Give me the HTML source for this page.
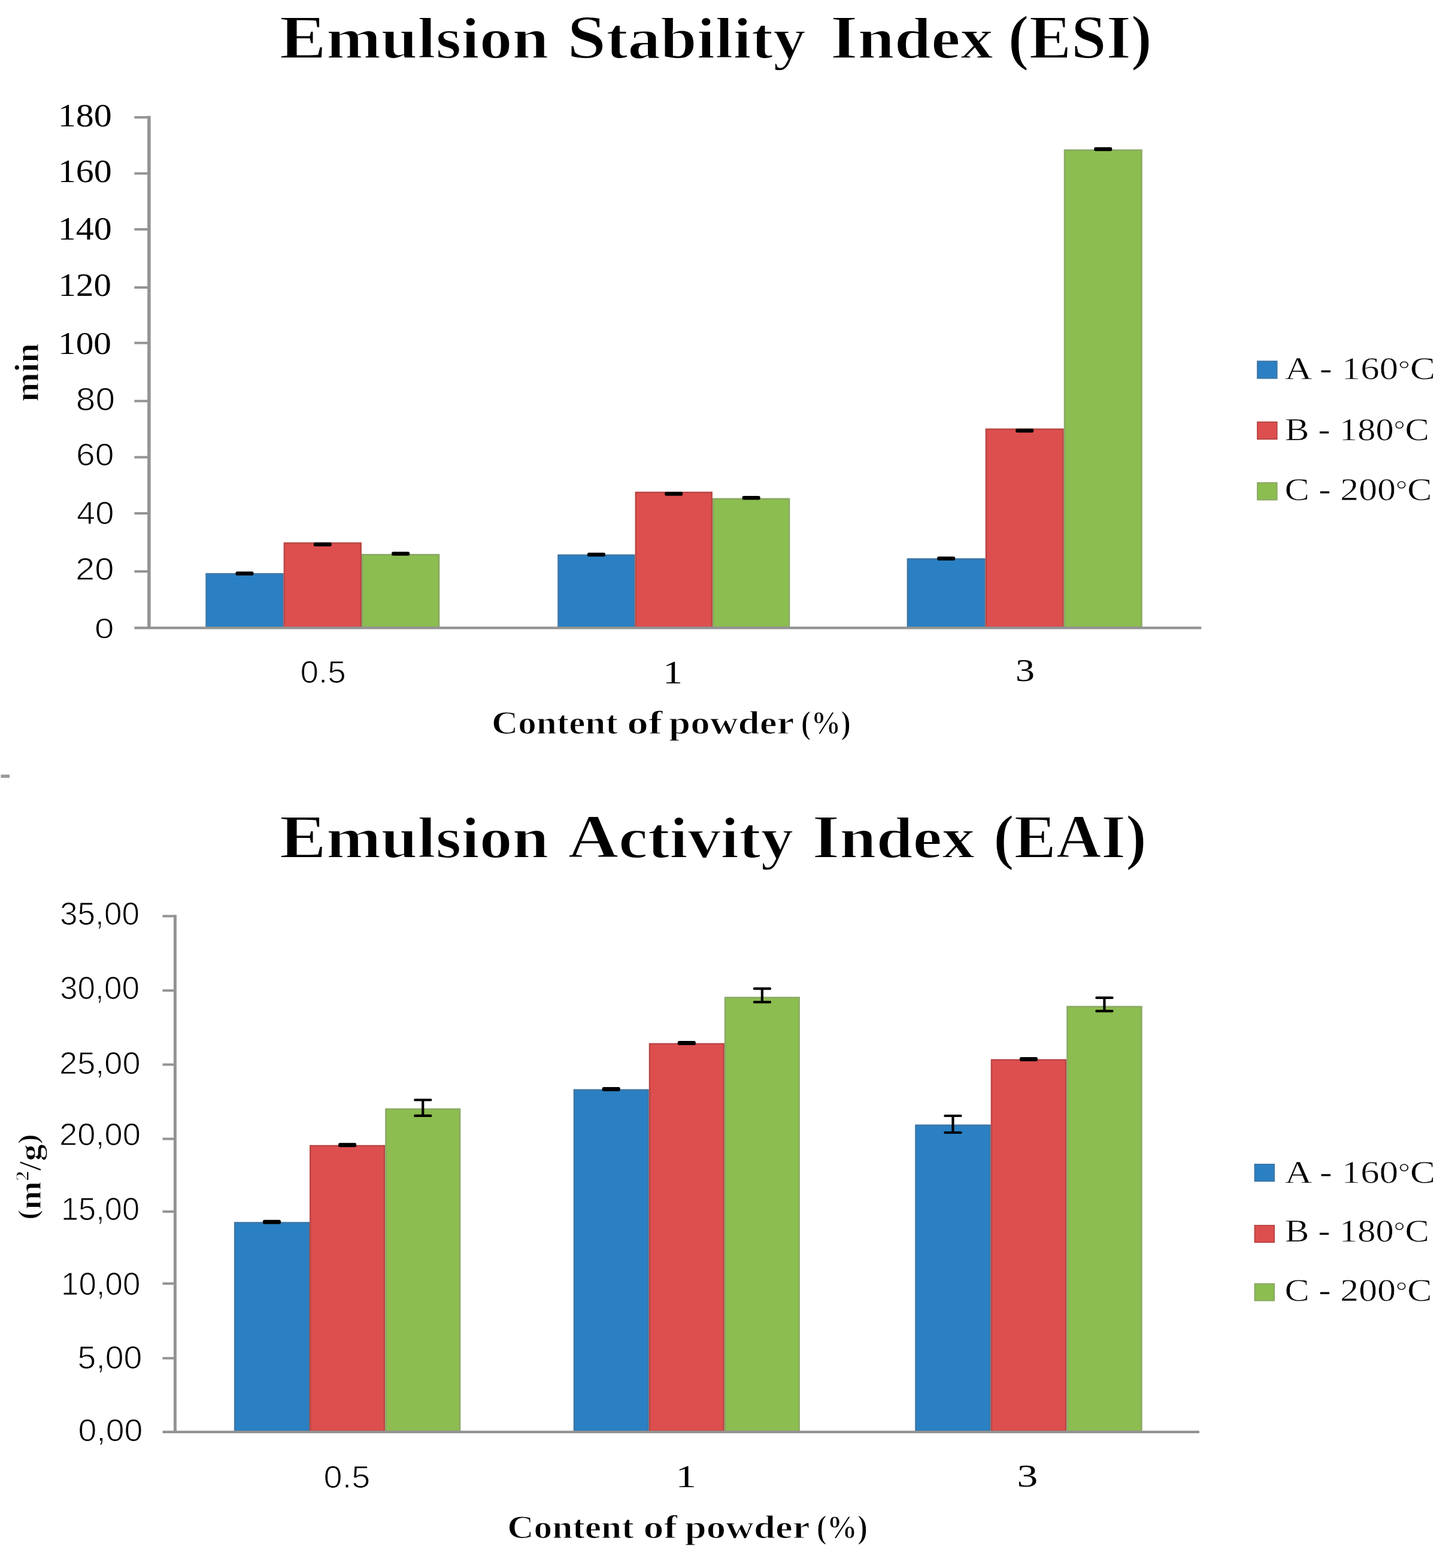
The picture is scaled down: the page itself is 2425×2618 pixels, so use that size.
<!DOCTYPE html>
<html><head><meta charset="utf-8"><title>Emulsion Stability Index (ESI) and Emulsion Activity Index (EAI)</title>
<style>html,body{margin:0;padding:0;background:#fff;overflow:hidden;}svg{display:block;}</style></head>
<body><svg width="2425" height="2618" viewBox="0 0 2425 2618">
<rect width="2425" height="2618" fill="#fff"/>
<rect x="344.55" y="958.15" width="127.83" height="89.00" fill="#2a80c2" stroke="#3f77a6" stroke-width="2.5"/>
<rect x="474.88" y="906.75" width="127.83" height="140.40" fill="#dd4f4e" stroke="#b94645" stroke-width="2.5"/>
<rect x="605.22" y="926.15" width="127.83" height="121.00" fill="#8cbd50" stroke="#8aa866" stroke-width="2.5"/>
<rect x="932.45" y="926.85" width="126.87" height="120.30" fill="#2a80c2" stroke="#3f77a6" stroke-width="2.5"/>
<rect x="1061.82" y="822.15" width="126.87" height="225.00" fill="#dd4f4e" stroke="#b94645" stroke-width="2.5"/>
<rect x="1191.18" y="832.85" width="126.87" height="214.30" fill="#8cbd50" stroke="#8aa866" stroke-width="2.5"/>
<rect x="1515.85" y="933.35" width="128.57" height="113.80" fill="#2a80c2" stroke="#3f77a6" stroke-width="2.5"/>
<rect x="1646.92" y="716.65" width="128.57" height="330.50" fill="#dd4f4e" stroke="#b94645" stroke-width="2.5"/>
<rect x="1777.98" y="250.65" width="128.57" height="796.50" fill="#8cbd50" stroke="#8aa866" stroke-width="2.5"/>
<rect x="393.47" y="954.15" width="30" height="6.5" rx="2.5" fill="#000"/>
<rect x="523.80" y="905.75" width="30" height="6.5" rx="2.5" fill="#000"/>
<rect x="654.13" y="921.35" width="30" height="6.5" rx="2.5" fill="#000"/>
<rect x="980.88" y="922.85" width="30" height="6.5" rx="2.5" fill="#000"/>
<rect x="1110.25" y="821.15" width="30" height="6.5" rx="2.5" fill="#000"/>
<rect x="1239.62" y="828.05" width="30" height="6.5" rx="2.5" fill="#000"/>
<rect x="1565.13" y="929.35" width="30" height="6.5" rx="2.5" fill="#000"/>
<rect x="1696.20" y="715.65" width="30" height="6.5" rx="2.5" fill="#000"/>
<rect x="1827.27" y="245.85" width="30" height="6.5" rx="2.5" fill="#000"/>
<line x1="248.90" y1="193.50" x2="248.90" y2="1048.40" stroke="#939393" stroke-width="5.5"/>
<line x1="224.40" y1="195.90" x2="248.90" y2="195.90" stroke="#939393" stroke-width="4"/>
<line x1="224.40" y1="289.60" x2="248.90" y2="289.60" stroke="#939393" stroke-width="4"/>
<line x1="224.40" y1="382.90" x2="248.90" y2="382.90" stroke="#939393" stroke-width="4"/>
<line x1="224.40" y1="480.00" x2="248.90" y2="480.00" stroke="#939393" stroke-width="4"/>
<line x1="224.40" y1="572.60" x2="248.90" y2="572.60" stroke="#939393" stroke-width="4"/>
<line x1="224.40" y1="669.60" x2="248.90" y2="669.60" stroke="#939393" stroke-width="4"/>
<line x1="224.40" y1="763.40" x2="248.90" y2="763.40" stroke="#939393" stroke-width="4"/>
<line x1="224.40" y1="857.10" x2="248.90" y2="857.10" stroke="#939393" stroke-width="4"/>
<line x1="224.40" y1="954.10" x2="248.90" y2="954.10" stroke="#939393" stroke-width="4"/>
<line x1="224.40" y1="1048.40" x2="2006.30" y2="1048.40" stroke="#939393" stroke-width="4.2"/>
<text transform="translate(63.5,671) rotate(-90)" font-family='"Liberation Serif", "DejaVu Serif", serif' font-size="58" font-weight="bold" stroke="#fff" stroke-width="1.2" textLength="98" lengthAdjust="spacingAndGlyphs">min</text>
<rect x="2100.10" y="603.20" width="32.50" height="28.40" fill="#2a80c2" stroke="#3f77a6" stroke-width="2"/>
<rect x="2100.10" y="704.70" width="32.50" height="28.40" fill="#dd4f4e" stroke="#b94645" stroke-width="2"/>
<rect x="2100.10" y="806.10" width="32.50" height="28.40" fill="#8cbd50" stroke="#8aa866" stroke-width="2"/>
<rect x="1.5" y="1293.3" width="14.5" height="5.4" fill="#999"/>
<rect x="392.15" y="2041.45" width="123.63" height="348.20" fill="#2a80c2" stroke="#3f77a6" stroke-width="2.5"/>
<rect x="518.28" y="1913.05" width="123.63" height="476.60" fill="#dd4f4e" stroke="#b94645" stroke-width="2.5"/>
<rect x="644.42" y="1851.75" width="123.63" height="537.90" fill="#8cbd50" stroke="#8aa866" stroke-width="2.5"/>
<rect x="958.95" y="1819.75" width="123.57" height="569.90" fill="#2a80c2" stroke="#3f77a6" stroke-width="2.5"/>
<rect x="1085.02" y="1742.85" width="123.57" height="646.80" fill="#dd4f4e" stroke="#b94645" stroke-width="2.5"/>
<rect x="1211.08" y="1665.55" width="123.57" height="724.10" fill="#8cbd50" stroke="#8aa866" stroke-width="2.5"/>
<rect x="1529.45" y="1878.75" width="124.00" height="510.90" fill="#2a80c2" stroke="#3f77a6" stroke-width="2.5"/>
<rect x="1655.95" y="1769.65" width="124.00" height="620.00" fill="#dd4f4e" stroke="#b94645" stroke-width="2.5"/>
<rect x="1782.45" y="1680.75" width="124.00" height="708.90" fill="#8cbd50" stroke="#8aa866" stroke-width="2.5"/>
<rect x="438.97" y="2036.70" width="30" height="7" rx="2.5" fill="#000"/>
<rect x="565.10" y="1908.30" width="30" height="7" rx="2.5" fill="#000"/>
<line x1="706.23" y1="1836.50" x2="706.23" y2="1862.80" stroke="#000" stroke-width="4.2"/>
<rect x="691.23" y="1834.40" width="30" height="4.2" rx="1.5" fill="#000"/>
<rect x="691.23" y="1860.70" width="30" height="4.2" rx="1.5" fill="#000"/>
<rect x="1005.73" y="1815.00" width="30" height="7" rx="2.5" fill="#000"/>
<rect x="1131.80" y="1738.10" width="30" height="7" rx="2.5" fill="#000"/>
<line x1="1272.87" y1="1650.70" x2="1272.87" y2="1673.10" stroke="#000" stroke-width="4.2"/>
<rect x="1257.87" y="1648.60" width="30" height="4.2" rx="1.5" fill="#000"/>
<rect x="1257.87" y="1671.00" width="30" height="4.2" rx="1.5" fill="#000"/>
<line x1="1591.45" y1="1863.00" x2="1591.45" y2="1891.00" stroke="#000" stroke-width="4.2"/>
<rect x="1576.45" y="1860.90" width="30" height="4.2" rx="1.5" fill="#000"/>
<rect x="1576.45" y="1888.90" width="30" height="4.2" rx="1.5" fill="#000"/>
<rect x="1702.95" y="1764.90" width="30" height="7" rx="2.5" fill="#000"/>
<line x1="1844.45" y1="1665.80" x2="1844.45" y2="1688.20" stroke="#000" stroke-width="4.2"/>
<rect x="1829.45" y="1663.70" width="30" height="4.2" rx="1.5" fill="#000"/>
<rect x="1829.45" y="1686.10" width="30" height="4.2" rx="1.5" fill="#000"/>
<line x1="292.40" y1="1527.60" x2="292.40" y2="2390.90" stroke="#939393" stroke-width="5"/>
<line x1="271.50" y1="1529.60" x2="292.40" y2="1529.60" stroke="#939393" stroke-width="4"/>
<line x1="271.50" y1="1653.80" x2="292.40" y2="1653.80" stroke="#939393" stroke-width="4"/>
<line x1="271.50" y1="1777.50" x2="292.40" y2="1777.50" stroke="#939393" stroke-width="4"/>
<line x1="271.50" y1="1901.50" x2="292.40" y2="1901.50" stroke="#939393" stroke-width="4"/>
<line x1="271.50" y1="2022.90" x2="292.40" y2="2022.90" stroke="#939393" stroke-width="4"/>
<line x1="271.50" y1="2143.10" x2="292.40" y2="2143.10" stroke="#939393" stroke-width="4"/>
<line x1="271.50" y1="2267.70" x2="292.40" y2="2267.70" stroke="#939393" stroke-width="4"/>
<line x1="271.50" y1="2390.90" x2="2003.00" y2="2390.90" stroke="#939393" stroke-width="4.2"/>
<text transform="translate(68,2036.5) rotate(-90)" font-family='"Liberation Serif", "DejaVu Serif", serif' font-size="52" font-weight="bold" stroke="#fff" stroke-width="1.2" textLength="143" lengthAdjust="spacingAndGlyphs"><tspan font-size="46" dy="-6">(</tspan><tspan dy="6">m</tspan><tspan font-size="32" dy="-20">2</tspan><tspan dy="20">/g</tspan><tspan font-size="46" dy="-6">)</tspan></text>
<rect x="2095.60" y="1944.00" width="32.50" height="28.00" fill="#2a80c2" stroke="#3f77a6" stroke-width="2"/>
<rect x="2095.60" y="2046.10" width="32.50" height="28.00" fill="#dd4f4e" stroke="#b94645" stroke-width="2"/>
<rect x="2095.60" y="2143.50" width="32.50" height="28.00" fill="#8cbd50" stroke="#8aa866" stroke-width="2"/>
<text x="466.8" y="97.35" font-family='"Liberation Serif", "DejaVu Serif", serif' font-size="103.28" font-weight="bold" text-anchor="start" textLength="449.8" lengthAdjust="spacingAndGlyphs" stroke="#fff" stroke-width="1.8">E<tspan font-size="96.57">mulsion</tspan></text>
<text x="947.2" y="97.35" font-family='"Liberation Serif", "DejaVu Serif", serif' font-size="103.28" font-weight="bold" text-anchor="start" textLength="398.6" lengthAdjust="spacingAndGlyphs" stroke="#fff" stroke-width="1.8">S<tspan font-size="96.57">tability</tspan></text>
<text x="1386.8" y="97.35" font-family='"Liberation Serif", "DejaVu Serif", serif' font-size="103.28" font-weight="bold" text-anchor="start" textLength="272.0" lengthAdjust="spacingAndGlyphs" stroke="#fff" stroke-width="1.8">I<tspan font-size="96.57">ndex</tspan></text>
<text x="1683.6" y="97.35" font-family='"Liberation Serif", "DejaVu Serif", serif' font-size="103.28" font-weight="bold" text-anchor="start" textLength="240.4" lengthAdjust="spacingAndGlyphs" stroke="#fff" stroke-width="1.8">(ESI)</text>
<text x="466.8" y="1431.9" font-family='"Liberation Serif", "DejaVu Serif", serif' font-size="103.58" font-weight="bold" text-anchor="start" textLength="449.8" lengthAdjust="spacingAndGlyphs" stroke="#fff" stroke-width="1.8">E<tspan font-size="96.85">mulsion</tspan></text>
<text x="948.4" y="1431.9" font-family='"Liberation Serif", "DejaVu Serif", serif' font-size="103.58" font-weight="bold" text-anchor="start" textLength="376.8" lengthAdjust="spacingAndGlyphs" stroke="#fff" stroke-width="1.8">A<tspan font-size="96.85">ctivity</tspan></text>
<text x="1356.6" y="1431.9" font-family='"Liberation Serif", "DejaVu Serif", serif' font-size="103.58" font-weight="bold" text-anchor="start" textLength="271.6" lengthAdjust="spacingAndGlyphs" stroke="#fff" stroke-width="1.8">I<tspan font-size="96.85">ndex</tspan></text>
<text x="1659.0" y="1431.9" font-family='"Liberation Serif", "DejaVu Serif", serif' font-size="103.58" font-weight="bold" text-anchor="start" textLength="255.8" lengthAdjust="spacingAndGlyphs" stroke="#fff" stroke-width="1.8">(EAI)</text>
<text x="96.8" y="210.65" font-family='"Liberation Serif", "DejaVu Serif", serif' font-size="54.07" font-weight="normal" text-anchor="start" textLength="90.0" lengthAdjust="spacingAndGlyphs">180</text>
<text x="96.8" y="303.9" font-family='"Liberation Serif", "DejaVu Serif", serif' font-size="54.31" font-weight="normal" text-anchor="start" textLength="90.0" lengthAdjust="spacingAndGlyphs">160</text>
<text x="96.8" y="400.25" font-family='"Liberation Serif", "DejaVu Serif", serif' font-size="54.07" font-weight="normal" text-anchor="start" textLength="90.0" lengthAdjust="spacingAndGlyphs">140</text>
<text x="97.6" y="493.65" font-family='"Liberation Serif", "DejaVu Serif", serif' font-size="54.07" font-weight="normal" text-anchor="start" textLength="88.2" lengthAdjust="spacingAndGlyphs">120</text>
<text x="97.0" y="590.75" font-family='"Liberation Serif", "DejaVu Serif", serif' font-size="53.43" font-weight="normal" text-anchor="start" textLength="89.0" lengthAdjust="spacingAndGlyphs">100</text>
<text x="126.8" y="684.75" font-family='"Liberation Sans", "DejaVu Sans", sans-serif' font-size="53.76" font-weight="normal" text-anchor="start" textLength="65.2" lengthAdjust="spacingAndGlyphs" stroke="#fff" stroke-width="1.1">80</text>
<text x="127.0" y="777.1" font-family='"Liberation Sans", "DejaVu Sans", sans-serif' font-size="51.75" font-weight="normal" text-anchor="start" textLength="63.4" lengthAdjust="spacingAndGlyphs" stroke="#fff" stroke-width="1.1">60</text>
<text x="128.0" y="874.75" font-family='"Liberation Sans", "DejaVu Sans", sans-serif' font-size="53.94" font-weight="normal" text-anchor="start" textLength="62.4" lengthAdjust="spacingAndGlyphs" stroke="#fff" stroke-width="1.1">40</text>
<text x="126.0" y="968.1" font-family='"Liberation Sans", "DejaVu Sans", sans-serif' font-size="52.37" font-weight="normal" text-anchor="start" textLength="64.4" lengthAdjust="spacingAndGlyphs" stroke="#fff" stroke-width="1.1">20</text>
<text x="158.0" y="1066.1" font-family='"Liberation Sans", "DejaVu Sans", sans-serif' font-size="48.94" font-weight="normal" text-anchor="start" textLength="32.4" lengthAdjust="spacingAndGlyphs" stroke="#fff" stroke-width="1.1">0</text>
<text x="501.6" y="1139.85" font-family='"Liberation Sans", "DejaVu Sans", sans-serif' font-size="52.13" font-weight="normal" text-anchor="start" textLength="76.2" lengthAdjust="spacingAndGlyphs" stroke="#fff" stroke-width="1.1">0.5</text>
<text x="1107.0" y="1140.95" font-family='"Liberation Serif", "DejaVu Serif", serif' font-size="54.95" font-weight="normal" text-anchor="start" textLength="33.0" lengthAdjust="spacingAndGlyphs">1</text>
<text x="1696.0" y="1137.05" font-family='"Liberation Serif", "DejaVu Serif", serif' font-size="52.89" font-weight="normal" text-anchor="start" textLength="32.0" lengthAdjust="spacingAndGlyphs">3</text>
<text x="821.0" y="1224.85" font-family='"Liberation Serif", "DejaVu Serif", serif' font-size="55.9" font-weight="bold" text-anchor="start" textLength="210.8" lengthAdjust="spacingAndGlyphs" stroke="#fff" stroke-width="1.2">Content</text>
<text x="1047.2" y="1224.85" font-family='"Liberation Serif", "DejaVu Serif", serif' font-size="55.9" font-weight="bold" text-anchor="start" textLength="59.4" lengthAdjust="spacingAndGlyphs" stroke="#fff" stroke-width="1.2">of</text>
<text x="1117.0" y="1224.85" font-family='"Liberation Serif", "DejaVu Serif", serif' font-size="55.9" font-weight="bold" text-anchor="start" textLength="209.4" lengthAdjust="spacingAndGlyphs" stroke="#fff" stroke-width="1.2">powder</text>
<text x="1337.8" y="1224.85" font-family='"Liberation Serif", "DejaVu Serif", serif' font-size="55.9" font-weight="bold" text-anchor="start" textLength="83.2" lengthAdjust="spacingAndGlyphs" stroke="#fff" stroke-width="1.2">(%)</text>
<text x="2146.0" y="633.45" font-family='"Liberation Serif", "DejaVu Serif", serif' font-size="52.3" font-weight="normal" text-anchor="start" textLength="251.0" lengthAdjust="spacingAndGlyphs" stroke="#fff" stroke-width="0.6">A - 160<tspan font-size="40.79" dy="-3.5">°</tspan><tspan dy="3.5">C</tspan></text>
<text x="2146.0" y="734.75" font-family='"Liberation Serif", "DejaVu Serif", serif' font-size="53.43" font-weight="normal" text-anchor="start" textLength="241.0" lengthAdjust="spacingAndGlyphs" stroke="#fff" stroke-width="0.6">B - 180<tspan font-size="41.68" dy="-3.5">°</tspan><tspan dy="3.5">C</tspan></text>
<text x="2145.6" y="834.75" font-family='"Liberation Serif", "DejaVu Serif", serif' font-size="53.43" font-weight="normal" text-anchor="start" textLength="246.0" lengthAdjust="spacingAndGlyphs" stroke="#fff" stroke-width="0.6">C - 200<tspan font-size="41.68" dy="-3.5">°</tspan><tspan dy="3.5">C</tspan></text>
<text x="100.0" y="1543.5" font-family='"Liberation Sans", "DejaVu Sans", sans-serif' font-size="54.14" font-weight="normal" text-anchor="start" textLength="133.0" lengthAdjust="spacingAndGlyphs" stroke="#fff" stroke-width="1.1">35,00</text>
<text x="100.0" y="1668.3" font-family='"Liberation Sans", "DejaVu Sans", sans-serif' font-size="52.89" font-weight="normal" text-anchor="start" textLength="133.0" lengthAdjust="spacingAndGlyphs" stroke="#fff" stroke-width="1.1">30,00</text>
<text x="99.0" y="1792.75" font-family='"Liberation Sans", "DejaVu Sans", sans-serif' font-size="51.53" font-weight="normal" text-anchor="start" textLength="135.6" lengthAdjust="spacingAndGlyphs" stroke="#fff" stroke-width="1.1">25,00</text>
<text x="99.0" y="1912.05" font-family='"Liberation Sans", "DejaVu Sans", sans-serif' font-size="52.37" font-weight="normal" text-anchor="start" textLength="136.0" lengthAdjust="spacingAndGlyphs" stroke="#fff" stroke-width="1.1">20,00</text>
<text x="102.0" y="2037.1" font-family='"Liberation Sans", "DejaVu Sans", sans-serif' font-size="53.64" font-weight="normal" text-anchor="start" textLength="131.0" lengthAdjust="spacingAndGlyphs" stroke="#fff" stroke-width="1.1">15,00</text>
<text x="102.0" y="2162.0" font-family='"Liberation Sans", "DejaVu Sans", sans-serif' font-size="54.25" font-weight="normal" text-anchor="start" textLength="132.4" lengthAdjust="spacingAndGlyphs" stroke="#fff" stroke-width="1.1">10,00</text>
<text x="129.6" y="2285.45" font-family='"Liberation Sans", "DejaVu Sans", sans-serif' font-size="54.41" font-weight="normal" text-anchor="start" textLength="107.8" lengthAdjust="spacingAndGlyphs" stroke="#fff" stroke-width="1.1">5,00</text>
<text x="130.4" y="2405.65" font-family='"Liberation Sans", "DejaVu Sans", sans-serif' font-size="52.47" font-weight="normal" text-anchor="start" textLength="108.0" lengthAdjust="spacingAndGlyphs" stroke="#fff" stroke-width="1.1">0,00</text>
<text x="540.6" y="2483.5" font-family='"Liberation Sans", "DejaVu Sans", sans-serif' font-size="51.24" font-weight="normal" text-anchor="start" textLength="77.6" lengthAdjust="spacingAndGlyphs" stroke="#fff" stroke-width="1.1">0.5</text>
<text x="1128.4" y="2482.9" font-family='"Liberation Serif", "DejaVu Serif", serif' font-size="52.15" font-weight="normal" text-anchor="start" textLength="34.4" lengthAdjust="spacingAndGlyphs">1</text>
<text x="1698.6" y="2482.4" font-family='"Liberation Serif", "DejaVu Serif", serif' font-size="52.02" font-weight="normal" text-anchor="start" textLength="34.8" lengthAdjust="spacingAndGlyphs">3</text>
<text x="847.2" y="2567.85" font-family='"Liberation Serif", "DejaVu Serif", serif' font-size="55.9" font-weight="bold" text-anchor="start" textLength="211.4" lengthAdjust="spacingAndGlyphs" stroke="#fff" stroke-width="1.2">Content</text>
<text x="1074.6" y="2567.85" font-family='"Liberation Serif", "DejaVu Serif", serif' font-size="55.9" font-weight="bold" text-anchor="start" textLength="56.6" lengthAdjust="spacingAndGlyphs" stroke="#fff" stroke-width="1.2">of</text>
<text x="1143.8" y="2567.85" font-family='"Liberation Serif", "DejaVu Serif", serif' font-size="55.9" font-weight="bold" text-anchor="start" textLength="208.6" lengthAdjust="spacingAndGlyphs" stroke="#fff" stroke-width="1.2">powder</text>
<text x="1363.8" y="2567.85" font-family='"Liberation Serif", "DejaVu Serif", serif' font-size="55.9" font-weight="bold" text-anchor="start" textLength="85.2" lengthAdjust="spacingAndGlyphs" stroke="#fff" stroke-width="1.2">(%)</text>
<text x="2146.0" y="1974.75" font-family='"Liberation Serif", "DejaVu Serif", serif' font-size="53.43" font-weight="normal" text-anchor="start" textLength="251.0" lengthAdjust="spacingAndGlyphs" stroke="#fff" stroke-width="0.6">A - 160<tspan font-size="41.68" dy="-3.5">°</tspan><tspan dy="3.5">C</tspan></text>
<text x="2146.0" y="2072.75" font-family='"Liberation Serif", "DejaVu Serif", serif' font-size="53.43" font-weight="normal" text-anchor="start" textLength="241.0" lengthAdjust="spacingAndGlyphs" stroke="#fff" stroke-width="0.6">B - 180<tspan font-size="41.68" dy="-3.5">°</tspan><tspan dy="3.5">C</tspan></text>
<text x="2145.6" y="2172.35" font-family='"Liberation Serif", "DejaVu Serif", serif' font-size="53.43" font-weight="normal" text-anchor="start" textLength="246.0" lengthAdjust="spacingAndGlyphs" stroke="#fff" stroke-width="0.6">C - 200<tspan font-size="41.68" dy="-3.5">°</tspan><tspan dy="3.5">C</tspan></text>
</svg></body></html>
